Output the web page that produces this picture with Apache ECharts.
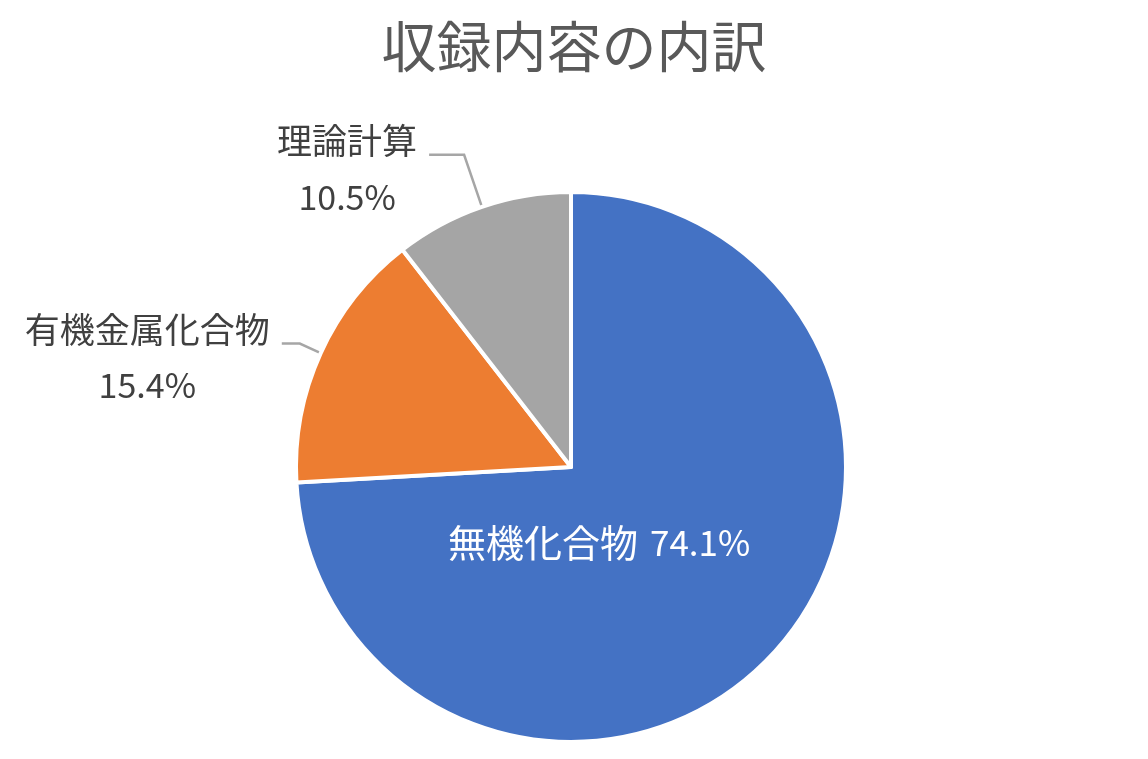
<!DOCTYPE html>
<html>
<head>
<meta charset="utf-8">
<script src="https://cdn.jsdelivr.net/npm/echarts@6/dist/echarts.min.js"></script>
<style>
  html, body { margin: 0; padding: 0; background: #fff; }
  #chart { width: 1148px; height: 759px; }
</style>
</head>
<body>
<div id="chart"></div>
<script>
var categories = ['無機化合物', '有機金属化合物', '理論計算'];
var shares = [74.1, 15.4, 10.5];
var sliceColors = ['#4472C4', '#ED7D31', '#A5A5A5'];

var dom = document.getElementById('chart');
var myChart = echarts.init(dom);

var cjk = '"Noto Sans CJK JP", "Noto Sans", sans-serif';

var outsideLabel = {
    show: true,
    position: 'outside',
    distanceToLabelLine: 12,
    padding: [28, 0, 0, 0],
    formatter: function (p) {
        return '{n|' + p.name + '}\n{v|' + p.value.toFixed(1) + '%}';
    },
    rich: {
        n: { fontFamily: cjk, fontSize: 35, color: '#404040', align: 'center', lineHeight: 56 },
        v: { fontFamily: cjk, fontSize: 34, color: '#404040', align: 'center', lineHeight: 56 }
    }
};

var insideLabel = {
    show: true,
    position: 'inside',
    offset: [-74, -21],
    formatter: function (p) {
        return '{n|' + p.name + '}{v|' + p.value.toFixed(1) + '%}';
    },
    rich: {
        n: { fontFamily: cjk, fontSize: 38, color: '#fff' },
        v: { fontFamily: cjk, fontSize: 35, color: '#fff', padding: [0, 0, 0, 12] }
    }
};

// label line lengths per slice (first radial segment, then horizontal)
var lineLens = [[0, 0], [23, 18], [55, 35]];

var seriesData = categories.map(function (name, i) {
    var item = {
        name: name,
        value: shares[i],
        itemStyle: { color: sliceColors[i] }
    };
    if (i === 0) {
        item.label = insideLabel;
        item.labelLine = { show: false };
    } else {
        item.label = outsideLabel;
        item.labelLine = {
            show: true,
            length: lineLens[i][0],
            length2: lineLens[i][1],
            lineStyle: { color: '#A6A6A6', width: 2.5 }
        };
    }
    return item;
});

var option = {
    animation: false,
    backgroundColor: '#fff',
    title: {
        text: '収録内容の内訳',
        left: 'center',
        top: 14,
        textStyle: {
            fontFamily: cjk,
            fontSize: 55,
            fontWeight: 'normal',
            color: '#595959'
        }
    },
    series: [{
        type: 'pie',
        center: [571, 467],
        radius: [0, 275],
        startAngle: 90,
        clockwise: true,
        avoidLabelOverlap: false,
        itemStyle: {
            borderColor: '#fff',
            borderWidth: 4
        },
        data: seriesData
    }]
};

myChart.setOption(option);
</script>
</body>
</html>
